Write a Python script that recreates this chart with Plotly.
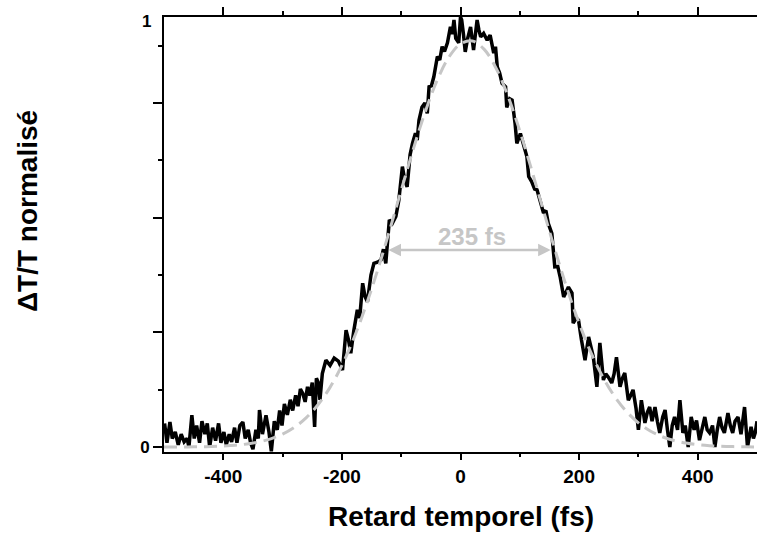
import plotly.graph_objects as go

# Measured trace (delay in fs, normalised dT/T)
delay_fs = [-499, -495, -490, -486, -481, -476, -471, -466, -461, -458, -453, -449, -445, -440, -436, -431,
            -427, -423, -418, -413, -408, -404, -399, -395, -390, -386, -381, -377, -372, -367, -363, -358,
            -354, -350, -345, -341, -339, -334, -328, -323, -319, -314, -309, -305, -301, -297, -292, -287,
            -283, -278, -274, -270, -266, -262, -258, -254, -250, -246, -243, -240, -237, -233, -227, -220,
            -213, -206, -199, -193, -189, -185, -180, -174, -170, -165, -161, -157, -151, -146, -140, -134,
            -130, -126, -120, -115, -109, -104, -98, -94, -90, -85, -81, -76, -73, -70, -65, -60, -56, -53,
            -49, -45, -39, -35, -31, -27, -22, -17, -14, -11, -8, -6, -3, 0, 2, 5, 8, 12, 17, 22, 25, 28, 31,
            34, 39, 45, 50, 56, 59, 62, 66, 70, 76, 78, 83, 87, 92, 95, 101, 106, 112, 115, 120, 125, 129,
            134, 140, 144, 148, 154, 157, 159, 164, 168, 174, 178, 182, 188, 190, 195, 199, 204, 210, 216,
            220, 224, 230, 235, 241, 245, 249, 255, 259, 263, 269, 273, 277, 283, 287, 291, 296, 300, 305,
            311, 315, 319, 323, 328, 332, 336, 341, 345, 349, 353, 357, 361, 366, 370, 375, 379, 384, 389,
            394, 398, 403, 408, 412, 416, 420, 425, 429, 433, 437, 441, 445, 451, 455, 459, 463, 468, 473,
            479, 484, 490, 494, 497, 500]
signal = [0.055, 0.01, 0.058, 0.02, 0.035, 0.005, 0.03, 0.012, 0.02, 0.0, 0.074, 0.02, 0.05, 0.01, 0.06, 0.03,
          0.055, 0.0, 0.045, 0.015, 0.055, 0.01, 0.035, 0.005, 0.03, 0.012, 0.045, 0.01, 0.05, 0.058, 0.02, 0.04,
          0.01, -0.005, 0.04, 0.02, 0.086, 0.03, 0.074, 0.035, -0.01, 0.06, 0.04, 0.085, 0.05, 0.10, 0.075, 0.11,
          0.085, 0.12, 0.095, 0.135, 0.125, 0.105, 0.14, 0.12, 0.15, 0.047, 0.16, 0.15, 0.11, 0.171, 0.202, 0.19,
          0.207, 0.20, 0.179, 0.272, 0.25, 0.218, 0.27, 0.319, 0.30, 0.381, 0.35, 0.338, 0.40, 0.427, 0.43, 0.435,
          0.46, 0.427, 0.528, 0.52, 0.536, 0.574, 0.652, 0.62, 0.605, 0.68, 0.706, 0.73, 0.714, 0.76, 0.79, 0.80, 0.776, 0.838,
          0.84, 0.861, 0.908, 0.90, 0.931, 0.92, 0.94, 0.977, 0.96, 0.993, 0.95, 0.947, 0.94, 1.0, 0.993, 0.96, 0.919, 0.95, 0.977, 0.923, 0.96, 0.993, 0.97,
          0.954, 0.962, 0.946, 0.958, 0.916, 0.931, 0.884, 0.87, 0.846, 0.838, 0.79, 0.81, 0.807, 0.753, 0.706, 0.729, 0.706, 0.675, 0.629, 0.617, 0.60, 0.598,
          0.574, 0.544, 0.55, 0.52, 0.497, 0.458, 0.419, 0.42, 0.396, 0.349, 0.36, 0.372, 0.358, 0.288, 0.30, 0.295, 0.249, 0.202, 0.256,
          0.23, 0.209, 0.140, 0.242, 0.156, 0.17, 0.163, 0.149, 0.17, 0.209, 0.14, 0.16, 0.172, 0.109, 0.12, 0.133, 0.09, 0.04, 0.109,
          0.056, 0.08, 0.093, 0.06, 0.093, 0.06, 0.033, 0.07, 0.086, 0.04, 0.0, 0.05, 0.07, 0.04, 0.109, 0.033, 0.05, 0.0, 0.07,
          0.04, 0.062, 0.016, 0.05, 0.07, 0.04, 0.033, 0.05, 0.0, 0.04, 0.07, 0.045, 0.033, 0.079, 0.05, 0.033, 0.06, 0.07, 0.03,
          0.093, 0.0, 0.047, 0.02, 0.033, 0.06]

# Fitted curve
fit_delay = [-500, -480, -460, -440, -420, -400, -380, -360, -340, -320, -300, -280, -260, -240, -220, -200,
             -180, -160, -140, -120, -100, -80, -60, -40, -20, 0, 20, 40, 60, 80, 100, 120, 140, 160, 180, 200,
             220, 240, 260, 280, 300, 320, 340, 360, 380, 400, 420, 440, 460, 480, 500]
fit_values = [0.0001, 0.0002, 0.0004, 0.0007, 0.0013, 0.0024, 0.0042, 0.0072, 0.0119, 0.0192, 0.0301, 0.0460,
              0.0684, 0.0989, 0.1388, 0.1898, 0.2524, 0.3264, 0.4103, 0.5019, 0.5971, 0.6909, 0.7774, 0.8508,
              0.9057, 0.9376, 0.9442, 0.9247, 0.8809, 0.8161, 0.7353, 0.6445, 0.5493, 0.4554, 0.3672, 0.2880,
              0.2196, 0.1629, 0.1176, 0.0825, 0.0563, 0.0374, 0.0241, 0.0151, 0.0092, 0.0055, 0.0032, 0.0018,
              0.0010, 0.0005, 0.0003]

x_major = [-400, -200, 0, 200, 400]
x_minor = [-300, -100, 100, 300]
y_major = [0, 0.2667, 0.5333, 0.8]
y_major_text = ["0", "", "", ""]
y_minor = [0.1333, 0.4, 0.6667, 0.9333]

fwhm_label = "235 fs"
fwhm_start, fwhm_end, fwhm_level = -124, 152, 0.458

FONT = "Arial, Liberation Sans, sans-serif"
GREY = "#c6c6c6"

fig = go.Figure()
fig.add_trace(go.Scatter(x=delay_fs, y=signal, mode="lines",
                         line=dict(color="black", width=3.5), showlegend=False))
fig.add_trace(go.Scatter(x=fit_delay, y=fit_values, mode="lines", line_shape="spline",
                         line=dict(color=GREY, width=3, dash="13px,7px"), showlegend=False))
# invisible trace for top axis
fig.add_trace(go.Scatter(x=[None], y=[None], xaxis="x2", showlegend=False))

fig.update_layout(
    width=757, height=539,
    margin=dict(l=164, r=0, t=17, b=87),
    plot_bgcolor="white", paper_bgcolor="white",
    font=dict(family=FONT, color="black"),
    xaxis=dict(range=[-500, 500], showline=True, linecolor="black", linewidth=2,
               showgrid=False, zeroline=False, ticks="outside", ticklen=6, tickwidth=2,
               tickcolor="black", tickvals=x_major, ticktext=[str(v) for v in x_major],
               tickfont=dict(size=19, family=FONT, weight="bold"),
               minor=dict(tickvals=x_minor, ticks="outside", ticklen=3, tickwidth=2, tickcolor="black")),
    xaxis2=dict(range=[-500, 500], overlaying="x", side="top", showline=True, linecolor="black",
                linewidth=2, showgrid=False, zeroline=False, ticks="outside", ticklen=8, tickwidth=2,
                tickcolor="black", tickvals=x_major, showticklabels=False,
                minor=dict(tickvals=x_minor, ticks="outside", ticklen=4, tickwidth=2, tickcolor="black")),
    yaxis=dict(range=[-0.0115, 1.0], showline=True, linecolor="black", linewidth=2,
               showgrid=False, zeroline=False, ticks="outside", ticklen=9, tickwidth=2,
               tickcolor="black", tickvals=y_major, ticktext=y_major_text,
               tickfont=dict(size=17, family=FONT, weight="bold"),
               minor=dict(tickvals=y_minor, ticks="outside", ticklen=4, tickwidth=2, tickcolor="black")),
)

annotations = [
    dict(text="1", xref="paper", yref="y", x=-0.018, y=0.99, xanchor="right", yanchor="middle",
         showarrow=False, font=dict(size=17, family=FONT, weight="bold")),
    dict(text="Retard temporel (fs)", xref="paper", yref="paper", x=0.5, y=-0.149,
         xanchor="center", yanchor="middle", showarrow=False,
         font=dict(size=28, family=FONT, weight="bold")),
    dict(text="\u0394T/T normalisé", xref="paper", yref="paper", x=-0.231, y=0.554,
         xanchor="center", yanchor="middle", textangle=-90, showarrow=False,
         font=dict(size=28, family=FONT, weight="bold")),
    dict(text=fwhm_label, x=20, y=0.489, xref="x", yref="y", showarrow=False,
         font=dict(size=24, family=FONT, weight="bold", color=GREY)),
    dict(text="", x=fwhm_end, y=fwhm_level, ax=fwhm_start, ay=fwhm_level, xref="x", yref="y",
         axref="x", ayref="y", showarrow=True, arrowside="end+start", arrowhead=2,
         arrowsize=1, arrowwidth=2.5, arrowcolor=GREY),
]
fig.update_layout(annotations=annotations)

# remove the default page margin so the 757x539 figure fills the window exactly
fig.write_html("out.html", config={"displayModeBar": False},
               post_script="document.body.style.margin='0';document.body.style.overflow='hidden';")
